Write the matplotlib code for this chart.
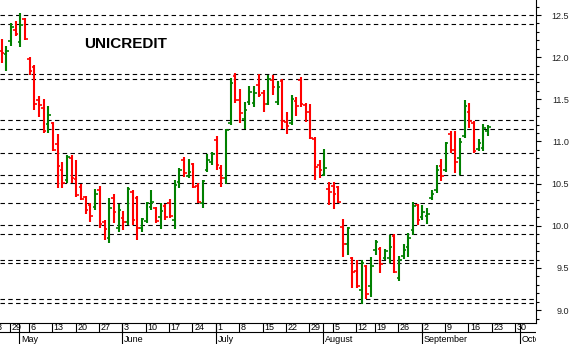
import matplotlib
matplotlib.use('Agg')
import matplotlib.pyplot as plt
import numpy as np
import pandas as pd
from matplotlib.ticker import MultipleLocator, FormatStrFormatter

plt.rcParams['font.family'] = ['Liberation Sans', 'DejaVu Sans']

# daily OHLC, 25 Apr 2019 .. 20 Sep 2019 (trading days)
title = 'UNICREDIT'
first_day = '2019-04-25'
holidays = ['2019-05-01', '2019-08-15']

opens = [12.07, 12.04, 12.19, 12.32, 12.18, 12.45, 11.98, 11.88, 11.49, 11.40,
         11.21, 11.22, 10.97, 10.66, 10.54, 10.80, 10.55, 10.46, 10.34, 10.25,
         10.22, 10.42, 10.04, 9.86, 10.33, 9.97, 10.09, 10.04, 10.40, 10.33,
         9.97, 10.06, 10.22, 10.21, 10.10, 10.23, 10.27, 10.07, 10.52, 10.78,
         10.59, 10.73, 10.47, 10.27, 10.66, 10.76, 11.02, 10.69, 10.57, 11.22,
         11.78, 11.49, 11.27, 11.47, 11.46, 11.67, 11.58, 11.44, 11.73, 11.47,
         11.72, 11.23, 11.22, 11.48, 11.73, 11.43, 11.35, 11.03, 10.72, 10.60,
         10.44, 10.47, 10.46, 9.99, 9.78, 9.62, 9.46, 9.24, 9.52, 9.29,
         9.71, 9.72, 9.62, 9.62, 9.88, 9.38, 9.64, 9.75, 9.95, 10.25,
         10.10, 10.12, 10.33, 10.42, 10.71, 10.66, 11.09, 10.90, 10.80, 11.07,
         11.35, 11.22, 10.91, 10.92, 11.12]
highs = [12.22, 12.13, 12.41, 12.43, 12.52, 12.46, 12.00, 11.91, 11.54, 11.50,
         11.42, 11.23, 11.09, 10.76, 10.84, 10.84, 10.78, 10.50, 10.35, 10.27,
         10.44, 10.47, 10.07, 10.33, 10.38, 10.26, 10.18, 10.46, 10.42, 10.35,
         10.09, 10.28, 10.42, 10.22, 10.27, 10.26, 10.32, 10.54, 10.69, 10.82,
         10.79, 10.74, 10.51, 10.54, 10.85, 10.88, 11.06, 10.72, 11.15, 11.75,
         11.81, 11.62, 11.47, 11.66, 11.66, 11.80, 11.61, 11.79, 11.79, 11.72,
         11.74, 11.35, 11.55, 11.53, 11.76, 11.46, 11.44, 11.05, 10.78, 10.91,
         10.52, 10.52, 10.47, 10.08, 9.99, 9.63, 9.59, 9.59, 9.53, 9.63,
         9.83, 9.75, 9.72, 9.89, 9.90, 9.64, 9.78, 9.91, 10.28, 10.26,
         10.25, 10.21, 10.42, 10.72, 10.79, 10.99, 11.12, 11.12, 11.04, 11.49,
         11.46, 11.24, 11.03, 11.21, 11.20]
lows = [11.93, 11.84, 12.13, 12.25, 12.12, 12.20, 11.79, 11.37, 11.29, 11.10,
        11.10, 10.89, 10.45, 10.45, 10.51, 10.51, 10.34, 10.31, 10.14, 10.04,
        10.19, 9.97, 9.83, 9.80, 10.03, 9.93, 9.95, 10.01, 10.01, 9.83,
        9.93, 10.03, 10.19, 10.03, 9.96, 10.07, 10.09, 9.96, 10.45, 10.58,
        10.57, 10.45, 10.27, 10.21, 10.64, 10.72, 10.66, 10.46, 10.50, 11.20,
        11.46, 11.22, 11.15, 11.43, 11.41, 11.53, 11.35, 11.43, 11.55, 11.43,
        11.15, 11.09, 11.20, 11.30, 11.41, 11.23, 11.03, 10.54, 10.57, 10.59,
        10.25, 10.20, 10.27, 9.63, 9.65, 9.26, 9.26, 9.07, 9.13, 9.16,
        9.65, 9.44, 9.59, 9.56, 9.44, 9.35, 9.61, 9.63, 9.89, 10.01,
        10.07, 10.02, 10.31, 10.39, 10.53, 10.64, 10.86, 10.63, 10.60, 11.04,
        11.16, 10.86, 10.89, 10.89, 11.06]
closes = [12.05, 12.07, 12.36, 12.27, 12.38, 12.22, 11.84, 11.44, 11.43, 11.12,
          11.31, 10.90, 10.71, 10.51, 10.82, 10.57, 10.37, 10.32, 10.19, 10.12,
          10.38, 10.02, 9.96, 10.21, 10.16, 10.19, 10.04, 10.44, 10.07, 9.97,
          10.08, 10.27, 10.28, 10.06, 10.18, 10.10, 10.12, 10.48, 10.66, 10.63,
          10.64, 10.46, 10.28, 10.53, 10.78, 10.85, 10.72, 10.57, 11.14, 11.69,
          11.49, 11.34, 11.37, 11.59, 11.58, 11.55, 11.44, 11.74, 11.65, 11.65,
          11.24, 11.18, 11.50, 11.42, 11.44, 11.35, 11.04, 10.70, 10.66, 10.69,
          10.40, 10.38, 10.28, 9.78, 9.97, 9.45, 9.29, 9.56, 9.19, 9.52,
          9.81, 9.55, 9.70, 9.75, 9.45, 9.59, 9.71, 9.86, 10.23, 10.07,
          10.16, 10.14, 10.38, 10.66, 10.59, 10.98, 10.90, 10.76, 10.99, 11.42,
          11.24, 10.89, 10.98, 11.16, 11.17]

# support / resistance lines
levels = [12.50, 12.39, 11.80, 11.745, 11.255, 11.145, 10.86, 10.60, 10.505,
          10.265, 10.005, 9.90, 9.60, 9.555, 9.128, 9.08]

month_names = ['May', 'June', 'July', 'August', 'September', 'October']

# trading calendar, position 0 = 29 Apr
days = pd.bdate_range('2019-04-23', '2019-10-04')
days = days[~days.isin(pd.to_datetime(holidays))]
pos = np.arange(len(days)) - days.get_loc(pd.Timestamp('2019-04-29'))

start = pos[days.get_loc(pd.Timestamp(first_day))]
x = start + np.arange(len(opens))
o, h, l, c = map(np.array, (opens, highs, lows, closes))
cols = np.where(c >= o, '#008000', '#ff0000')

W, H = 572, 344
fig = plt.figure(figsize=(W / 100, H / 100), dpi=100)
ax = fig.add_axes([0, 21 / H, 536 / W, 323 / H])
ax2 = fig.add_axes([0, 0, 536 / W, 21 / H])

px0, step = 11, 4.676
xlim = (-px0 / step, (536 - px0) / step)

for lv in levels:
    ax.axhline(lv, color='black', lw=0.8, ls=(0, (4, 3)), zorder=1)

ax.vlines(x, l, h, colors=cols, lw=1.5, zorder=2)
ax.hlines(o, x - 0.55, x, colors=cols, lw=1.2, zorder=2)
ax.hlines(c, x, x + 0.55, colors=cols, lw=1.2, zorder=2)

ax.set_xlim(xlim)
ax.set_ylim(8.847, 12.678)
ax.set_xticks([])
for s in ['left', 'top']:
    ax.spines[s].set_visible(False)
ax.spines['right'].set_linewidth(0.8)
ax.spines['bottom'].set_linewidth(0.8)
ax.yaxis.tick_right()
ax.yaxis.set_major_locator(MultipleLocator(0.5))
ax.yaxis.set_minor_locator(MultipleLocator(0.1))
ax.yaxis.set_major_formatter(FormatStrFormatter('%.1f'))
ax.tick_params(axis='y', which='major', length=3.6, width=0.8, pad=20,
               labelsize=6.5, labelcolor='#222222')
ax.tick_params(axis='y', which='minor', length=2.2, width=0.8)
plt.setp(ax.get_yticklabels(), ha='right')

ax.text(84 / 536, 1 - 44 / 323, title, transform=ax.transAxes,
        fontsize=11, fontweight='bold', ha='left', va='center')

# date rows under the chart
ax2.set_xlim(xlim)
ax2.set_ylim(0, 21)
ax2.axis('off')
ax2.axhline(11.7, color='black', lw=0.8)

wk = days.isocalendar().week.values
week_start = np.r_[True, wk[1:] != wk[:-1]]
mo = days.month.values
month_start = np.r_[False, mo[1:] != mo[:-1]]

for p, d in zip(pos[week_start], days[week_start]):
    ax2.vlines(p - 0.2, 11.7, 21, color='black', lw=0.8)
    ax2.text(p + 0.15, 16, str(d.day), fontsize=6.5, ha='left', va='center',
             clip_on=True, clip_box=ax2.bbox)
for p, name in zip(pos[month_start], month_names):
    ax2.vlines(p - 0.2, 0, 21, color='black', lw=0.8)
    ax2.text(p + 0.15, 4.5, name, fontsize=6.5, ha='left', va='center',
             clip_on=True, clip_box=ax2.bbox)

fig.savefig('out.png', dpi=100)
